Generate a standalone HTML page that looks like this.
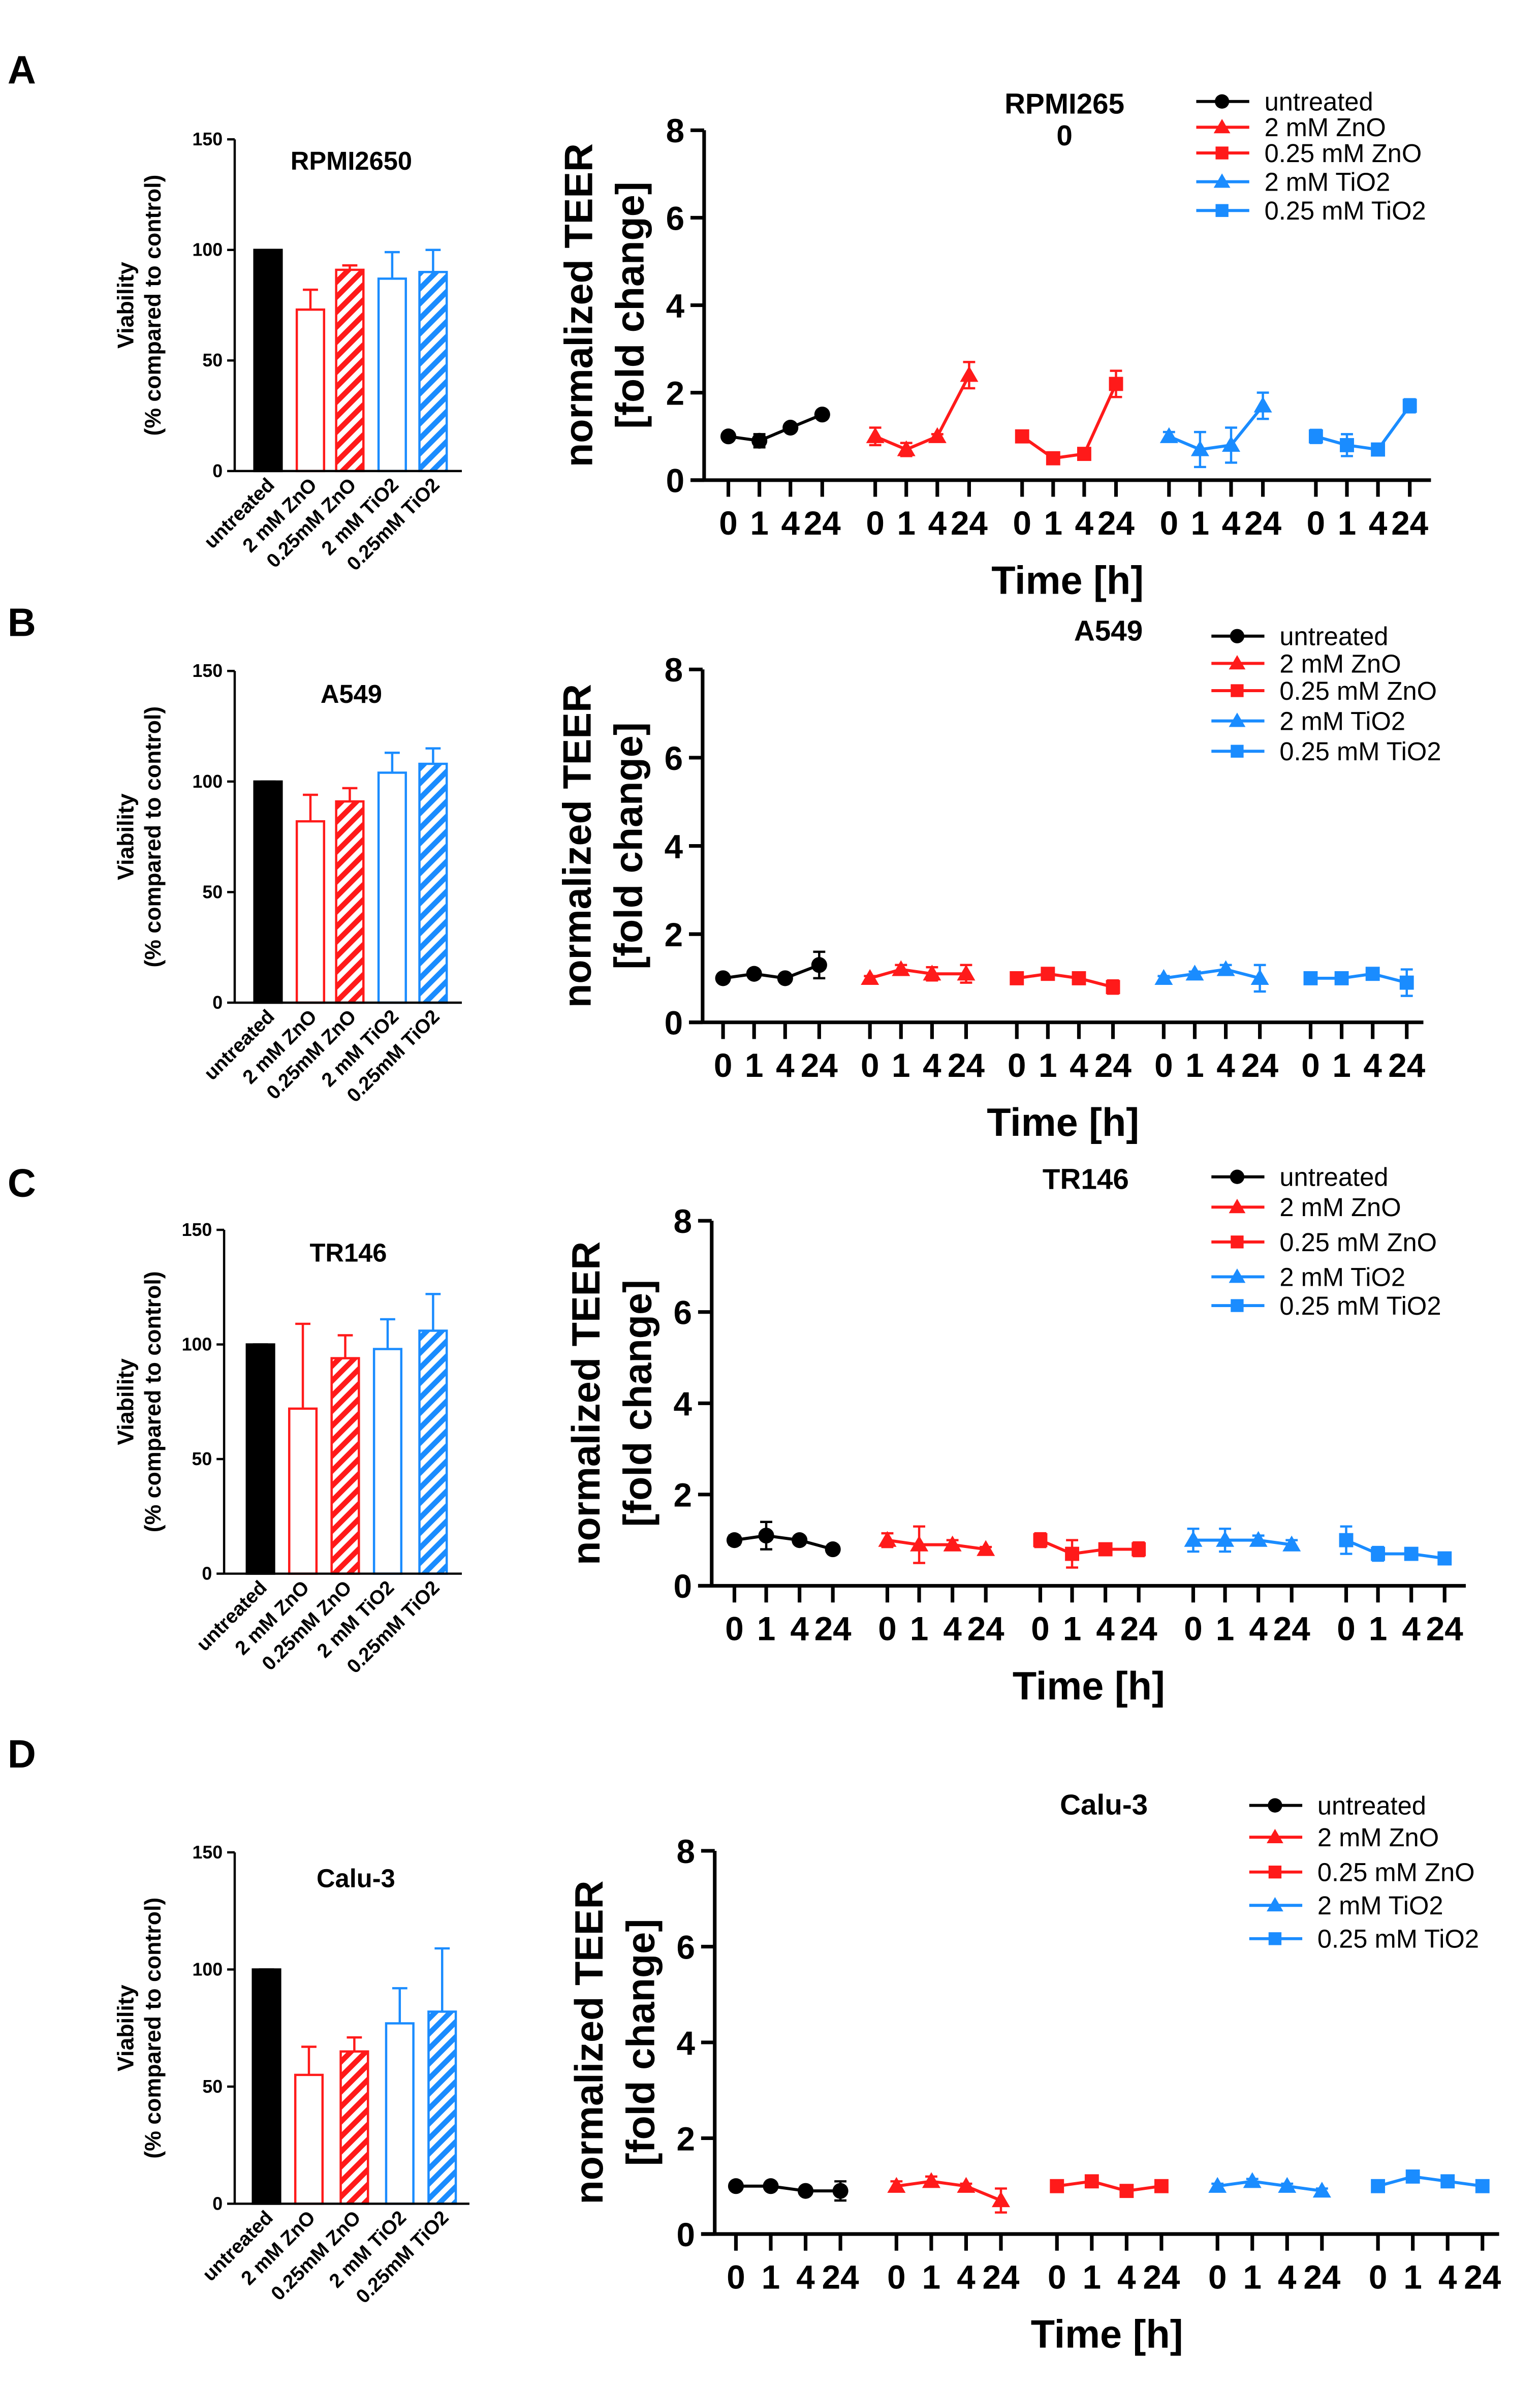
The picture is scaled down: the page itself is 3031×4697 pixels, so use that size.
<!DOCTYPE html>
<html><head><meta charset="utf-8"><style>
html,body{margin:0;padding:0;background:#fff}
svg{display:block;font-family:"Liberation Sans",Arial,sans-serif}
</style></head><body>
<svg id="fig" width="3031" height="4697" viewBox="0 0 1017 1576" xmlns="http://www.w3.org/2000/svg">
<defs>
<pattern id="hr" patternUnits="userSpaceOnUse" width="7" height="7" patternTransform="rotate(45)"><rect width="7" height="7" fill="#fff"/><rect width="3.5" height="7" fill="#ff1a1a"/></pattern>
<pattern id="hb" patternUnits="userSpaceOnUse" width="7" height="7" patternTransform="rotate(45)"><rect width="7" height="7" fill="#fff"/><rect width="3.5" height="7" fill="#1a8cff"/></pattern>
</defs>
</svg>
<script>
const categories=["untreated","2 mM ZnO","0.25mM ZnO","2 mM TiO2","0.25mM TiO2"];
const seriesNames=["untreated","2 mM ZnO","0.25 mM ZnO","2 mM TiO2","0.25 mM TiO2"];
const timeLabels=["0","1","4","24"];
const barTicks=[0,50,100,150];
const teerTicks=[0,2,4,6,8];
const barA=[100,73,91,87,90], barErrA=[0,9,2,12,10];
const barB=[100,82,91,104,108], barErrB=[0,12,6,9,7];
const barC=[100,72,94,98,106], barErrC=[0,37,10,13,16];
const barD=[100,55,65,77,82], barErrD=[0,12,6,15,27];
const teerA=[[1,0.9,1.2,1.5],[1,0.7,1.0,2.4],[1,0.5,0.6,2.2],[1,0.7,0.8,1.7],[1,0.8,0.7,1.7]];
const teerErrA=[[0.05,0.15,0.05,0.05],[0.2,0.15,0.05,0.3],[0.1,0.1,0.05,0.3],[0.1,0.4,0.4,0.3],[0.15,0.25,0.05,0.15]];
const teerB=[[1,1.1,1,1.3],[1,1.2,1.1,1.1],[1,1.1,1,0.8],[1,1.1,1.2,1.0],[1,1,1.1,0.9]];
const teerErrB=[[0.05,0.05,0.05,0.3],[0.05,0.1,0.15,0.2],[0.05,0.05,0.05,0.15],[0.05,0.05,0.1,0.3],[0.05,0.05,0.05,0.3]];
const teerC=[[1,1.1,1,0.8],[1,0.9,0.9,0.8],[1,0.7,0.8,0.8],[1,1,1,0.9],[1,0.7,0.7,0.6]];
const teerErrC=[[0.1,0.3,0.05,0.05],[0.15,0.4,0.1,0.05],[0.15,0.3,0.1,0.15],[0.25,0.25,0.1,0.1],[0.3,0.15,0.1,0.05]];
const teerD=[[1,1,0.9,0.9],[1,1.1,1,0.7],[1,1.1,0.9,1.0],[1,1.1,1,0.9],[1,1.2,1.1,1.0]];
const teerErrD=[[0.05,0.05,0.05,0.2],[0.1,0.1,0.05,0.25],[0.05,0.05,0.05,0.05],[0.05,0.05,0.05,0.05],[0.1,0.1,0.05,0.05]];

const NS="http://www.w3.org/2000/svg";
const svg=document.getElementById('fig');
const colors=["#000","#ff1a1a","#ff1a1a","#1a8cff","#1a8cff"];
const markers=["circle","tri","square","tri","square"];
function el(tag,attrs,parent,text){const e=document.createElementNS(NS,tag);for(const k in attrs)e.setAttribute(k,attrs[k]);if(text!==undefined)e.textContent=text;(parent||svg).appendChild(e);return e;}

const panels=[
 {label:"A",ly:45,title:"RPMI2650",bars:barA,berr:barErrA,bx:155,bTop:92,bBot:311,bEnd:305,bxs:[177,205,231,259,286],btx:232,bty:112,
  teer:teerA,terr:teerErrA,ax:465,tTop:86,tBot:317,tEnd:945,g0:481,gs:97,dt:[0,20.5,41,62],title2:["RPMI265","0"],t2x:703,t2y:75,legx:790,legy:[67,84,101,120,139]},
 {label:"B",ly:410,title:"A549",bars:barB,berr:barErrB,bx:155,bTop:443,bBot:662,bEnd:305,bxs:[177,205,231,259,286],btx:232,bty:464,
  teer:teerB,terr:teerErrB,ax:464,tTop:442,tBot:675,tEnd:940,g0:477.5,gs:97,dt:[0,20.5,41,63.5],title2:["A549"],t2x:732,t2y:423,legx:800,legy:[420,438,456,476,496]},
 {label:"C",ly:780,title:"TR146",bars:barC,berr:barErrC,bx:148,bTop:812,bBot:1039,bEnd:305,bxs:[172,200,228,256,286],btx:230,bty:833,
  teer:teerC,terr:teerErrC,ax:470,tTop:806,tBot:1047,tEnd:968,g0:485,gs:101,dt:[0,21,43,65],title2:["TR146"],t2x:717,t2y:785,legx:800,legy:[777,797,820,843,862]},
 {label:"D",ly:1157,title:"Calu-3",bars:barD,berr:barErrD,bx:155,bTop:1223,bBot:1455,bEnd:310,bxs:[176,204,234,264,292],btx:235,bty:1246,
  teer:teerD,terr:teerErrD,ax:472,tTop:1222,tBot:1475,tEnd:990,g0:486,gs:106,dt:[0,23,46,69],title2:["Calu-3"],t2x:729,t2y:1198,legx:825,legy:[1192,1213,1236,1258,1280]}
];

function marker(g,type,x,y,c,s){
 let m;
 if(type==="circle") m=el('circle',{cx:x,cy:y,r:s*0.95,fill:c},g);
 else if(type==="square") m=el('rect',{x:x-s*0.85,y:y-s*0.85,width:s*1.7,height:s*1.7,fill:c},g);
 else m=el('polygon',{points:`${x},${y-s*1.1} ${x-s*1.1},${y+s*0.8} ${x+s*1.1},${y+s*0.8}`,fill:c},g);
 return m;
}

panels.forEach((p,pi)=>{
 const g=el('g',{});
 
 
 const lab=el('text',{x:5,y:p.ly+10,'font-size':26,'font-weight':'bold'},g,p.label);
 
 
 // ---- bar chart
 const by=v=>p.bBot-(v/150)*(p.bBot-p.bTop);
 const bg=el('g',{},g);
 
 
 const bw=18;
 p.bars.forEach((v,i)=>{
  const x=p.bxs[i];const c=colors[i];
  const fill=i===0?"#000":(i===2?"url(#hr)":(i===4?"url(#hb)":"#fff"));
  const e=el('line',{x1:x,x2:x,y1:by(v),y2:by(v+p.berr[i]),stroke:c,'stroke-width':1.5},bg);
  
  
  el('line',{x1:x-5,x2:x+5,y1:by(v+p.berr[i]),y2:by(v+p.berr[i]),stroke:c,'stroke-width':1.5},bg);
  const r=el('rect',{x:x-bw/2,y:by(v),width:bw,height:by(0)-by(v),fill:fill,stroke:c,'stroke-width':1.5},bg);
  
  
  const t=el('text',{x:x+5,y:p.bBot+10,'font-size':13,'font-weight':'bold','text-anchor':'end',transform:`rotate(-45 ${x+5} ${p.bBot+10})`},bg,categories[i]);
  
  
 });
 el('line',{x1:p.bx,x2:p.bx,y1:p.bTop,y2:p.bBot,stroke:'#000','stroke-width':1.5},bg);
 el('line',{x1:p.bx,x2:p.bEnd,y1:p.bBot,y2:p.bBot,stroke:'#000','stroke-width':1.5},bg);
 barTicks.forEach(t=>{
  el('line',{x1:p.bx-5,x2:p.bx,y1:by(t),y2:by(t),stroke:'#000','stroke-width':1.5},bg);
  const tt=el('text',{x:p.bx-8,y:by(t)+4,'font-size':12,'font-weight':'bold','text-anchor':'end'},bg,t);
  
  
 });
 const bt=el('text',{x:p.btx,y:p.bty,'font-size':17,'font-weight':'bold','text-anchor':'middle'},bg,p.title);
 
 
 const cy=(p.bTop+p.bBot)/2;
 const yl=el('text',{x:88,y:cy,'font-size':15,'font-weight':'bold','text-anchor':'middle',transform:`rotate(-90 88 ${cy})`},bg,"Viability");
 
 
 el('text',{x:106,y:cy,'font-size':15,'font-weight':'bold','text-anchor':'middle',transform:`rotate(-90 106 ${cy})`},bg,"(% compared to control)");
 // ---- TEER line chart
 const lg=el('g',{},g);
 
 
 const ty=v=>p.tBot-(v/8)*(p.tBot-p.tTop);
 const tx=(s,j)=>p.g0+s*p.gs+p.dt[j];
 el('line',{x1:p.ax,x2:p.ax,y1:p.tTop,y2:p.tBot,stroke:'#000','stroke-width':2.4},lg);
 el('line',{x1:p.ax-9,x2:p.tEnd,y1:p.tBot,y2:p.tBot,stroke:'#000','stroke-width':2.4},lg);
 teerTicks.forEach(t=>{
  el('line',{x1:p.ax-9,x2:p.ax,y1:ty(t),y2:ty(t),stroke:'#000','stroke-width':2.4},lg);
  const tt=el('text',{x:p.ax-13,y:ty(t)+8,'font-size':22,'font-weight':'bold','text-anchor':'end'},lg,t);
  
  
 });
 for(let s=0;s<5;s++){
  timeLabels.forEach((l,j)=>{
   const x=tx(s,j);
   el('line',{x1:x,x2:x,y1:p.tBot,y2:p.tBot+11,stroke:'#000','stroke-width':2.4},lg);
   const tt=el('text',{x:x,y:p.tBot+36,'font-size':22,'font-weight':'bold','text-anchor':'middle'},lg,l);
   
   
  });
 }
 p.teer.forEach((ser,s)=>{
  const c=colors[s];
  const sg=el('g',{},lg);
  
  
  el('polyline',{points:ser.map((v,j)=>tx(s,j)+','+ty(v)).join(' '),fill:'none',stroke:c,'stroke-width':2},sg);
  ser.forEach((v,j)=>{
   const x=tx(s,j),e=p.terr[s][j];
   el('line',{x1:x,x2:x,y1:ty(v-e),y2:ty(v+e),stroke:c,'stroke-width':1.5},sg);
   el('line',{x1:x-4,x2:x+4,y1:ty(v-e),y2:ty(v-e),stroke:c,'stroke-width':1.5},sg);
   el('line',{x1:x-4,x2:x+4,y1:ty(v+e),y2:ty(v+e),stroke:c,'stroke-width':1.5},sg);
   const m=marker(sg,markers[s],x,ty(v),c,5.5);
   
   
  });
 });
 const cy2=(p.tTop+p.tBot)/2;
 const lx1=p.ax-74,lx2=p.ax-40;
 const t1=el('text',{x:lx1,y:cy2,'font-size':26,'font-weight':'bold','text-anchor':'middle',transform:`rotate(-90 ${lx1} ${cy2})`},lg,"normalized TEER");
 
 
 el('text',{x:lx2,y:cy2,'font-size':26,'font-weight':'bold','text-anchor':'middle',transform:`rotate(-90 ${lx2} ${cy2})`},lg,"[fold change]");
 const xt=el('text',{x:(p.ax+p.tEnd)/2,y:p.tBot+75,'font-size':26,'font-weight':'bold','text-anchor':'middle'},lg,"Time [h]");
 
 
 p.title2.forEach((t,k)=>{
  const tt=el('text',{x:p.t2x,y:p.t2y+k*21,'font-size':19,'font-weight':'bold','text-anchor':'middle'},lg,t);
  
  
 });
 const leg=el('g',{},lg);
 
 
 seriesNames.forEach((n,s)=>{
  const y=p.legy[s];
  const eg=el('g',{},leg);
  
  
  el('line',{x1:p.legx,x2:p.legx+35,y1:y,y2:y,stroke:colors[s],'stroke-width':2},eg);
  marker(eg,markers[s],p.legx+17,y,colors[s],5);
  el('text',{x:p.legx+45,y:y+6,'font-size':17},eg,n);
 });
});
</script>
</body></html>
